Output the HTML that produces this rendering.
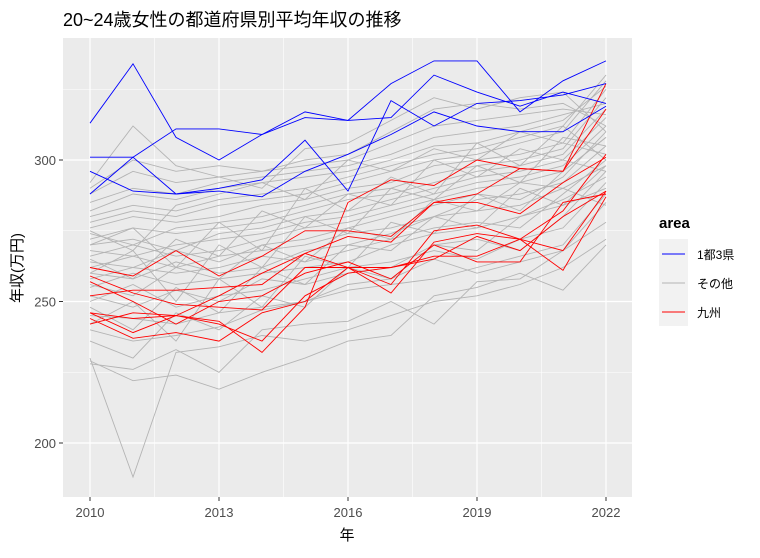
<!DOCTYPE html>
<html><head><meta charset="utf-8"><style>
body{margin:0;background:#fff;}
svg text{font-family:"Liberation Sans","Noto Sans CJK JP",sans-serif;}
</style></head><body>
<svg id="chart" width="760" height="553" xmlns="http://www.w3.org/2000/svg">
<rect width="760" height="553" fill="#fff"/>
<text x="63" y="26" font-size="18" fill="#000">20~24歳女性の都道府県別平均年収の推移</text>
<rect x="63" y="38" width="569" height="459" fill="#ebebeb"/>
<g id="grid"></g><g id="series"></g><g id="axes"></g>
<text x="347" y="540" font-size="15" text-anchor="middle" fill="#000">年</text>
<text transform="translate(22,268) rotate(-90)" font-size="15" text-anchor="middle" fill="#000">年収(万円)</text>
<g>
<text x="659" y="228" font-size="15" font-weight="bold" fill="#000">area</text>
<rect x="659" y="239" width="29" height="87" fill="#f2f2f2"/>
<line x1="662" x2="685" y1="254" y2="254" stroke="#0000ff" stroke-width="1"/>
<text x="697" y="259" font-size="12" fill="#000">1都3県</text>
<line x1="662" x2="685" y1="283" y2="283" stroke="#b4b4b4" stroke-width="1"/>
<text x="697" y="288" font-size="12" fill="#000">その他</text>
<line x1="662" x2="685" y1="312" y2="312" stroke="#ff0000" stroke-width="1"/>
<text x="697" y="317" font-size="12" fill="#000">九州</text>
</g>
</svg>
<script>
const years=[2010,2011,2012,2013,2014,2015,2016,2017,2018,2019,2020,2021,2022];
const xTicks=[2010,2013,2016,2019,2022];
const yTicks=[200,250,300];
const graySeries=[
[230,188,232,234,238,236,240,245,250,252,256,262,272],
[229,222,224,219,225,230,236,238,252,255,260,254,270],
[228,226,233,225,240,242,243,250,242,257,258,268,285],
[240,236,238,241,247,250,254,256,258,262,266,270,288],
[245,244,242,246,248,250,256,258,265,260,264,268,278],
[250,256,248,252,254,258,262,264,268,265,272,276,292],
[252,248,254,250,258,256,260,262,270,272,268,280,296],
[255,260,256,258,260,262,264,270,274,276,280,284,290],
[258,262,260,262,266,264,268,272,276,278,276,288,300],
[260,258,264,260,262,268,270,274,280,282,284,290,298],
[262,266,262,266,268,270,274,276,280,286,288,292,305],
[264,262,268,264,270,272,276,280,284,288,286,294,310],
[266,270,266,268,272,276,278,282,286,290,292,296,308],
[268,266,270,272,274,278,280,284,288,292,294,298,312],
[270,272,268,274,276,280,282,286,290,294,296,300,315],
[272,276,274,276,278,282,286,288,292,296,298,302,318],
[274,270,276,278,280,284,288,290,295,298,300,304,322],
[276,280,278,280,284,286,290,292,298,300,302,306,325],
[278,282,280,284,286,288,292,296,300,302,306,310,328],
[280,284,282,286,288,290,294,298,302,304,308,312,330],
[282,288,286,290,292,294,296,300,305,306,310,314,326],
[285,290,288,292,294,296,298,302,308,310,312,316,320],
[288,296,292,294,296,298,300,306,312,314,316,318,316],
[290,300,296,298,296,300,302,310,318,320,318,320,312],
[292,312,298,294,290,304,306,314,322,318,322,324,310],
[275,268,284,288,292,286,300,296,304,300,310,306,302],
[270,276,262,278,268,290,282,294,288,306,298,312,300],
[265,258,272,266,282,276,288,284,300,294,304,300,296],
[260,268,250,270,262,280,274,290,286,298,292,308,305],
[248,240,255,246,262,256,270,268,280,276,290,284,298],
[242,250,236,258,248,266,262,278,274,288,282,296,308],
[236,230,246,240,252,248,262,258,270,268,280,286,294],
[256,252,262,258,270,264,276,272,286,282,292,290,284]
];
const kyushuSeries=[
[262,259,268,259,266,275,275,273,285,285,281,292,301],
[246,244,245,243,232,248,285,293,291,300,297,296,327],
[252,254,254,255,256,267,262,256,275,277,272,268,289],
[259,253,249,248,247,262,262,253,271,274,272,261,287],
[246,239,245,252,260,267,273,271,285,288,297,296,318],
[242,246,245,242,236,252,260,262,265,273,268,280,289],
[257,250,242,250,252,260,264,258,270,264,264,285,288],
[244,237,239,236,246,250,262,262,266,266,272,282,302]
];
const shutoSeries=[
[313,334,308,300,309,317,314,327,335,335,317,328,335],
[301,301,288,289,287,296,302,309,317,312,310,310,319],
[296,289,288,290,293,307,289,321,312,320,321,323,327],
[288,301,311,311,309,315,314,315,330,324,319,324,320]
];
const NS='http://www.w3.org/2000/svg';
const X0=63,X1=632,Y0=38,Y1=497;
function xScale(v){return 90+(v-2010)*(606-90)/12;}
function yScale(v){return 443-(v-200)*(443-160)/100;}
function mk(tag,attrs,parent){const e=document.createElementNS(NS,tag);for(const k in attrs)e.setAttribute(k,attrs[k]);parent.appendChild(e);return e;}
const grid=document.getElementById('grid'),ser=document.getElementById('series'),axes=document.getElementById('axes');
for(let i=0;i<xTicks.length-1;i++){const xm=xScale((xTicks[i]+xTicks[i+1])/2);
const l=mk('line',{x1:xm,x2:xm,y1:Y0,y2:Y1,stroke:'#fff','stroke-width':0.6},grid);

}
for(let i=0;i<yTicks.length;i++){const ym=yScale(yTicks[i]+25);
const l=mk('line',{x1:X0,x2:X1,y1:ym,y2:ym,stroke:'#fff','stroke-width':0.6},grid);

}
xTicks.forEach(t=>{const x=xScale(t);
const l=mk('line',{x1:x,x2:x,y1:Y0,y2:Y1,stroke:'#fff','stroke-width':1.2},grid);


const tk=mk('line',{x1:x,x2:x,y1:Y1,y2:Y1+4,stroke:'#333','stroke-width':1},axes);


const tx=mk('text',{x:x,y:Y1+20,'font-size':13,'text-anchor':'middle',fill:'#4d4d4d'},axes);tx.textContent=t;

});
yTicks.forEach(t=>{const y=yScale(t);
const l=mk('line',{x1:X0,x2:X1,y1:y,y2:y,stroke:'#fff','stroke-width':1.2},grid);


const tk=mk('line',{x1:X0-4,x2:X0,y1:y,y2:y,stroke:'#333','stroke-width':1},axes);


const tx=mk('text',{x:X0-7,y:y+5,'font-size':13,'text-anchor':'end',fill:'#4d4d4d'},axes);tx.textContent=t;

});
function draw(arr,color,name,w){arr.forEach(s=>{const d=s.map((v,i)=>(i?'L':'M')+xScale(years[i]).toFixed(1)+','+yScale(v).toFixed(1)).join('');
const p=mk('path',{d:d,fill:'none',stroke:color,'stroke-width':w},ser);

});}
draw(graySeries,'#b4b4b4','other-prefecture-line',0.9);
draw(kyushuSeries,'#ff0000','kyushu-line',0.9);
draw(shutoSeries,'#0000ff','shuto-line',0.9);
</script>
</body></html>
